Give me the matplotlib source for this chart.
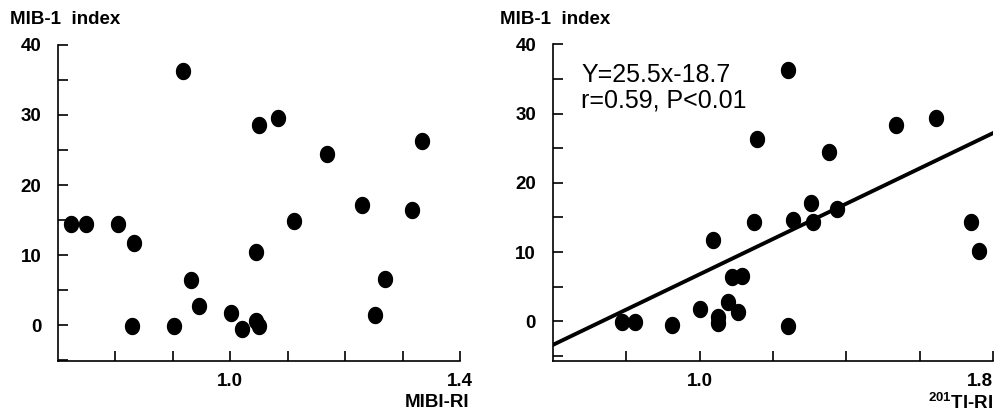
import numpy as np
import matplotlib
matplotlib.use("Agg")
import matplotlib.pyplot as plt
from matplotlib.path import Path

plt.rcParams["font.family"] = ["Liberation Sans", "DejaVu Sans"]
plt.rcParams["mathtext.fontset"] = "custom"
plt.rcParams["mathtext.rm"] = "Liberation Sans:bold"
plt.rcParams["mathtext.bf"] = "Liberation Sans:bold"

# Datos
mibi_x = [0.722, 0.749, 0.804, 0.833, 0.828, 0.902, 0.917, 0.932, 0.946, 1.002,
          1.021, 1.044, 1.050, 1.044, 1.050, 1.083, 1.111, 1.168, 1.230, 1.252,
          1.270, 1.316, 1.334]
mibi_y = [14.5, 14.5, 14.5, 11.7, -0.1, -0.1, 36.3, 6.5, 2.7, 1.8,
          -0.5, 0.6, -0.1, 10.5, 28.5, 29.6, 14.9, 24.4, 17.2, 1.4,
          6.6, 16.4, 26.3]

tl_x = [0.789, 0.823, 0.924, 1.000, 1.050, 1.050, 1.036, 1.078, 1.088, 1.115,
        1.104, 1.147, 1.156, 1.242, 1.242, 1.255, 1.303, 1.308, 1.353, 1.375,
        1.534, 1.644, 1.738, 1.761]
tl_y = [-0.1, -0.1, -0.5, 1.8, 0.6, -0.2, 11.7, 2.8, 6.4, 6.6,
        1.4, 14.4, 26.3, 36.3, -0.6, 14.7, 17.1, 14.4, 24.4, 16.2,
        28.3, 29.3, 14.3, 10.2]

pendiente = 25.5
intercepto = -18.7

# Marcador eliptico (un poco mas alto que ancho)
t = np.linspace(0, 2 * np.pi, 60)
elipse = Path(np.column_stack([np.cos(t) * 0.87, np.sin(t)]), closed=True)

fig = plt.figure(figsize=(10, 4.12), dpi=100)
ax1 = fig.add_axes([0.058, 0.124, 0.402, 0.767])
ax2 = fig.add_axes([0.5527, 0.124, 0.4406, 0.7685])

FS = 13.5


def estilo(ax, xlim, ylim, xticks, xlabels):
    ax.set_xlim(*xlim)
    ax.set_ylim(*ylim)
    for s in ["top", "right"]:
        ax.spines[s].set_visible(False)
    for s in ["left", "bottom"]:
        ax.spines[s].set_linewidth(1.2)
    ax.set_xticks(xticks)
    ax.set_xticklabels(xlabels, fontsize=FS, fontweight="bold")
    ax.set_yticks(np.arange(-5, 41, 5))
    ax.set_yticklabels(["" if v % 10 else str(v) for v in range(-5, 41, 5)],
                       fontsize=FS, fontweight="bold")
    ax.tick_params(direction="in", length=7, width=1.2)
    ax.tick_params(axis="y", pad=12)
    ax.tick_params(axis="x", pad=9)


# Panel izquierdo: MIBI-RI
ax1.plot(mibi_x, mibi_y, linestyle="none", marker=elipse, markersize=11.5,
         color="black", clip_on=False)
ticks1 = [0.8, 0.9, 1.0, 1.1, 1.2, 1.3, 1.4]
estilo(ax1, (0.7, 1.4), (-5.1, 40), ticks1,
       ["1.0" if abs(v - 1.0) < 1e-9 else ("1.4" if abs(v - 1.4) < 1e-9 else "") for v in ticks1])
fig.text(0.010, 0.953, "MIB-1  index", fontsize=FS, fontweight="bold", va="center")
fig.text(0.469, 0.022, "MIBI-RI", fontsize=FS, fontweight="bold", ha="right", va="center")

# Panel derecho: 201Tl-RI
ax2.plot(tl_x, tl_y, linestyle="none", marker=elipse, markersize=11.5,
         color="black", clip_on=False)
xl = np.array([0.6, 1.8])
ax2.plot(xl, pendiente * xl + intercepto, color="black", linewidth=2.8)
ticks2 = [0.8, 1.0, 1.2, 1.4, 1.6, 1.8]
estilo(ax2, (0.6, 1.8), (-5.7, 40), ticks2,
       ["1.0" if abs(v - 1.0) < 1e-9 else ("1.8" if abs(v - 1.8) < 1e-9 else "") for v in ticks2])
ax2.get_xticklabels()[-1].set_horizontalalignment("right")
fig.text(0.500, 0.953, "MIB-1  index", fontsize=FS, fontweight="bold", va="center")
fig.text(0.993, 0.022, r"$^{201}$Tl-RI", fontsize=FS, fontweight="bold", ha="right", va="center")
ax2.text(0.581, 0.818, "Y=25.5x-18.7", transform=fig.transFigure, fontsize=18, va="center")
ax2.text(0.581, 0.757, "r=0.59, P<0.01", transform=fig.transFigure, fontsize=18, va="center")

fig.savefig("out.png", dpi=100)
